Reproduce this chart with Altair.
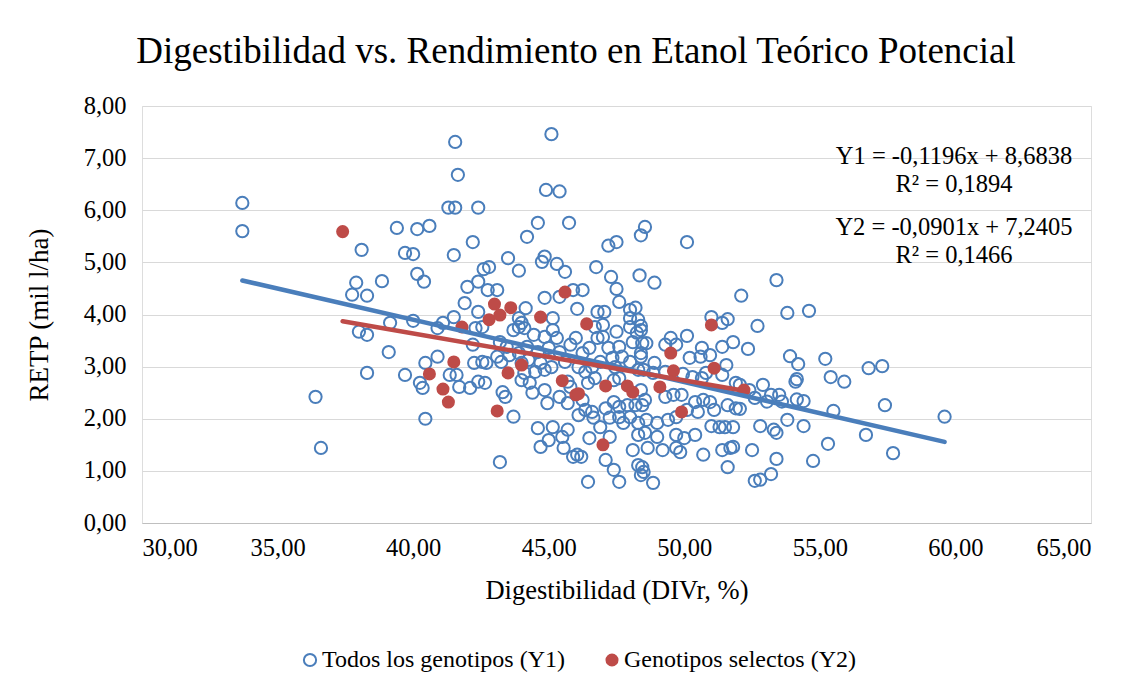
import altair as alt
import pandas as pd

# ---- Data ----
blue_x = [33.7, 33.7, 36.4, 36.6, 37.75, 37.9, 38.1, 38.3, 38.85, 39.15, 38.0, 38.3, 39.1, 38.3, 39.7,
          39.4, 39.7, 40.0, 40.15, 40.6, 41.3, 41.55, 42.4, 41.55, 41.65, 42.2, 41.5, 43.5, 44.2, 40.15,
          40.4, 42.6, 42.8, 43.9, 42.4, 42.0, 42.75, 43.1, 41.9, 42.4, 41.5, 40.0, 41.1, 43.9, 44.0,
          45.1, 44.9, 45.4, 44.6, 45.75, 48.55, 48.4, 47.2, 47.5, 44.85, 44.75, 45.3, 45.6, 46.75,
          47.3, 48.35, 47.5, 44.85, 45.4, 45.9, 46.25, 44.15, 46.05, 47.6, 46.8, 47.05, 48.0, 48.2,
          45.15, 48.0, 48.3, 48.4, 50.1, 48.9, 52.1, 51.0, 51.6, 51.4, 52.7, 53.4, 53.8, 54.6,
          57.3, 57.4, 59.6, 57.7, 53.9, 54.2, 55.2, 56.8, 55.4, 55.9, 54.1, 54.15, 52.9, 53.2, 53.5,
          53.6, 53.05, 54.15, 54.4, 55.5, 53.8, 54.4, 52.8, 53.3, 53.4, 56.7, 55.3, 53.4, 54.75,
          53.2, 52.8,
          48.4, 49.5, 50.1, 49.3, 49.7, 50.65, 51.4, 51.8, 52.35, 48.6, 48.4, 50.2, 50.6, 50.95,
          51.55, 48.9, 48.85, 48.5, 49.3, 49.95, 50.3, 50.65, 50.8, 51.4, 51.9, 52.05, 52.4, 48.4,
          48.55, 48.45, 49.3, 49.6, 49.9, 50.4, 50.7, 50.95, 51.1, 51.6, 51.9, 52.05, 52.6, 50.5,
          50.1, 48.6, 49.0, 49.4, 49.7, 51.0, 51.3, 51.5, 51.8, 48.55, 49.0, 49.7, 50.0, 50.4,
          48.65, 49.2, 49.7, 49.85, 50.7, 51.4, 51.7, 51.8, 52.5, 51.6, 48.45, 48.5, 48.85, 52.6,
          44.1, 44.45, 44.85, 45.15, 45.3, 45.8, 46.0, 46.8, 47.0, 46.7, 47.0, 47.5, 48.0, 48.25,
          48.1, 48.45, 47.6, 47.2, 46.5, 46.25, 45.4, 45.0, 44.6, 44.2, 44.25, 44.7, 44.85, 44.5,
          44.1, 44.3, 45.1, 45.6, 46.1, 46.35, 46.6, 46.9, 47.45, 47.35, 47.7, 48.0, 48.3, 48.4,
          45.7, 45.8, 46.45, 46.7, 47.4, 47.6, 44.85, 44.4, 44.95, 45.4, 45.7, 46.25, 46.35, 46.1,
          46.6, 46.65, 47.1, 47.4, 47.6, 47.9, 48.2, 47.6, 48.0, 47.75, 48.3, 47.25, 46.9, 47.25,
          48.3, 46.5, 44.6, 45.15, 45.7, 45.5, 45.0, 44.7, 45.55, 45.9, 46.05, 46.2, 48.1, 47.1,
          47.4, 47.6, 46.45, 48.3, 48.4,
          40.9, 42.3, 42.55, 42.2, 43.7, 43.9, 43.2, 43.45, 43.55, 43.1, 43.25, 43.9, 44.0, 40.9,
          40.45, 40.25, 40.35, 41.35, 41.6, 41.7, 42.1, 42.4, 42.65, 42.25, 42.55, 42.7, 43.3, 43.4,
          43.7, 40.45, 43.2, 44.0]
blue_y = [6.14, 5.60, 2.42, 1.44, 4.38, 4.61, 5.24, 4.36, 4.64, 3.84, 3.67, 3.61, 3.28, 2.88, 2.84,
          5.66, 5.18, 5.16, 5.64, 5.70, 6.05, 6.05, 6.05, 7.31, 6.68, 5.39, 5.14, 5.08, 5.49, 4.78,
          4.63, 4.87, 4.91, 4.84, 4.63, 4.53, 4.47, 4.47, 4.22, 4.05, 3.95, 3.88, 3.84, 3.93, 3.84,
          7.46, 6.39, 6.36, 5.76, 5.76, 5.68, 5.52, 5.32, 5.39, 5.11, 5.01, 4.97, 4.82, 4.91,
          4.72, 4.75, 4.49, 4.32, 4.34, 4.47, 4.47, 4.12, 4.11, 4.24, 4.05, 4.05, 4.09, 4.13,
          3.93, 3.93, 3.90, 3.78, 5.39, 4.61, 4.36, 3.95, 3.91, 3.84, 3.78, 4.66, 4.03, 4.07,
          3.01, 2.26, 2.04, 1.34, 3.20, 3.05, 3.15, 2.97, 2.80, 2.71, 2.71, 2.76, 2.65, 2.46, 2.46,
          2.33, 2.33, 2.37, 2.34, 2.15, 1.98, 1.86, 1.86, 1.79, 1.73, 1.69, 1.52, 1.23, 1.19,
          0.94, 0.83,
          3.70, 3.55, 3.59, 3.42, 3.42, 3.36, 3.38, 3.47, 3.34, 3.45, 3.19, 3.17, 3.19, 3.22,
          3.03, 3.07, 2.88, 2.94, 2.90, 2.86, 2.80, 2.78, 2.88, 2.84, 2.69, 2.65, 2.55, 2.55,
          2.36, 2.26, 2.42, 2.46, 2.46, 2.32, 2.36, 2.32, 2.17, 2.26, 2.20, 2.19, 2.40, 2.13,
          2.17, 1.98, 1.92, 1.98, 2.03, 1.86, 1.84, 1.84, 1.84, 1.73, 1.65, 1.69, 1.63, 1.69,
          1.44, 1.40, 1.44, 1.36, 1.31, 1.40, 1.44, 1.46, 1.40, 1.07, 1.07, 0.98, 0.77, 0.81,
          3.74, 3.61, 3.57, 3.70, 3.55, 3.42, 3.55, 3.55, 3.57, 3.76, 3.80, 3.67, 3.76, 3.65,
          3.47, 3.45, 3.38, 3.36, 3.36, 3.26, 3.28, 3.36, 3.28, 3.38, 3.13, 3.07, 2.94, 2.90,
          2.88, 2.69, 2.99, 3.09, 2.99, 2.90, 2.99, 3.09, 2.99, 3.17, 3.19, 3.09, 2.94, 3.26,
          2.71, 2.61, 2.69, 2.78, 2.74, 2.78, 2.55, 2.50, 2.30, 2.42, 2.30, 2.36, 2.17, 2.07,
          2.13, 2.02, 2.20, 2.32, 2.23, 2.26, 2.26, 2.03, 2.03, 1.92, 1.92, 2.02, 1.84, 1.65,
          1.69, 1.63, 1.82, 1.84, 1.79, 1.65, 1.59, 1.46, 1.44, 1.27, 1.31, 1.27, 1.40, 1.21,
          1.02, 0.79, 0.79, 1.11, 0.92,
          3.74, 3.74, 3.76, 3.42, 3.70, 3.76, 3.47, 3.38, 3.22, 3.19, 3.09, 3.26, 2.74, 3.19,
          3.07, 2.69, 2.59, 2.84, 2.84, 2.61, 2.59, 2.71, 2.69, 3.07, 3.09, 3.07, 2.51, 2.42,
          2.04, 2.00, 1.17, 3.07]

red_x = [37.4, 41.8, 41.5, 40.6, 41.1, 41.3, 42.8, 43.0, 43.2, 43.6, 43.5, 44.0, 43.1, 44.7, 45.6,
         45.5, 46.0, 46.1, 46.4, 47.1, 47.0, 47.9, 48.1, 49.1, 49.5, 49.6, 49.9, 51.0, 51.1, 52.2]
red_y = [5.59, 3.76, 3.09, 2.86, 2.57, 2.32, 3.90, 4.20, 3.99, 4.13, 2.88, 3.03, 2.15, 3.95, 4.43,
         2.73, 2.46, 2.48, 3.82, 2.63, 1.50, 2.63, 2.51, 2.61, 3.26, 2.92, 2.13, 3.80, 2.97, 2.55]

# trendline coefficients (from the equations on the chart)
slopes = [-0.1196, -0.0901]
intercepts = [8.6838, 7.2405]
eq_lines = ["Y1 = -0,1196x + 8,6838", "R² = 0,1894", "Y2 = -0,0901x + 7,2405", "R² = 0,1466"]
series_names = ["Todos los genotipos (Y1)", "Genotipos selectos (Y2)"]
title_text = "Digestibilidad vs. Rendimiento en Etanol Teórico Potencial"
x_title = "Digestibilidad (DIVr, %)"
y_title = "RETP (mil l/ha)"

BLUE = "#4A7EBB"
RED = "#BE4B48"
FONT = "Liberation Serif"

blue_df = pd.DataFrame({"x": blue_x, "y": blue_y})
red_df = pd.DataFrame({"x": red_x, "y": red_y})

def trend(xs, b, a, name):
    lo, hi = min(xs), max(xs)
    return pd.DataFrame({"x": [lo, hi], "y": [a + b * lo, a + b * hi], "s": [name, name]})

trend1 = trend(blue_x, slopes[0], intercepts[0], "Y1")
trend2 = trend(red_x, slopes[1], intercepts[1], "Y2")

W, H = 949, 417
lab = "replace(format(datum.value, '.2f'), '.', ',')"

xsc = alt.Scale(domain=[30, 65], nice=False, zero=False)
ysc = alt.Scale(domain=[0, 8], nice=False)

xax = alt.Axis(values=[30, 35, 40, 45, 50, 55, 60, 65], labelExpr=lab, title=x_title,
               grid=False, domain=True, domainColor="#BFBFBF", ticks=False,
               labelFont=FONT, labelFontSize=24.5, labelColor="#000000", labelPadding=13,
               titleFont=FONT, titleFontSize=26.5, titleFontWeight="normal", titleColor="#000000",
               titlePadding=18)
yax = alt.Axis(values=[0, 1, 2, 3, 4, 5, 6, 7, 8], labelExpr=lab, title=y_title,
               grid=True, gridColor="#D9D9D9", domain=False, ticks=False,
               labelFont=FONT, labelFontSize=24.5, labelColor="#000000", labelPadding=16,
               titleFont=FONT, titleFontSize=27, titleFontWeight="normal", titleColor="#000000",
               titlePadding=30)

base_blue = alt.Chart(blue_df).mark_point(
    shape="circle", filled=False, size=150, strokeWidth=2, color=BLUE, opacity=1
).encode(x=alt.X("x:Q", scale=xsc, axis=xax), y=alt.Y("y:Q", scale=ysc, axis=yax))

red_pts = alt.Chart(red_df).mark_circle(size=170, color=RED, opacity=1).encode(
    x=alt.X("x:Q", scale=xsc), y=alt.Y("y:Q", scale=ysc))

line1 = alt.Chart(trend1).mark_line(color=BLUE, strokeWidth=4.5, strokeCap="round").encode(
    x=alt.X("x:Q", scale=xsc), y=alt.Y("y:Q", scale=ysc))
line2 = alt.Chart(trend2).mark_line(color=RED, strokeWidth=4.5, strokeCap="round").encode(
    x=alt.X("x:Q", scale=xsc), y=alt.Y("y:Q", scale=ysc))

# equation texts
eq_df = pd.DataFrame({"t": eq_lines, "py": [51, 79, 122, 150]})
eqs = alt.Chart(eq_df).mark_text(font=FONT, fontSize=24.5, color="#000000", align="center",
                                 baseline="middle").encode(
    x=alt.value(812), y=alt.Y("py:Q", scale=None), text="t:N")

# title
title_df = pd.DataFrame({"t": [title_text]})
title = alt.Chart(title_df).mark_text(font=FONT, fontSize=37, color="#000000", align="center",
                                      baseline="middle").encode(
    x=alt.value(434), y=alt.value(-54), text="t:N")

# legend
leg_df = pd.DataFrame({"t": series_names, "px": [168, 470], "tx": [180, 482]})
leg_sym1 = alt.Chart(leg_df.iloc[[0]]).mark_point(shape="circle", filled=False, size=150,
                                                 strokeWidth=2, color=BLUE, opacity=1).encode(
    x=alt.X("px:Q", scale=None), y=alt.value(554))
leg_sym2 = alt.Chart(leg_df.iloc[[1]]).mark_circle(size=170, color=RED, opacity=1).encode(
    x=alt.X("px:Q", scale=None), y=alt.value(554))
leg_txt = alt.Chart(leg_df).mark_text(font=FONT, fontSize=24, color="#000000", align="left",
                                      baseline="middle").encode(
    x=alt.X("tx:Q", scale=None), y=alt.value(554), text="t:N")

chart = alt.layer(base_blue, red_pts, line1, line2, eqs, title, leg_sym1, leg_sym2, leg_txt).properties(
    width=W, height=H,
    autosize=alt.AutoSizeParams(type="none"),
    padding={"left": 134, "top": 98, "right": 40, "bottom": 154},
).configure_view(stroke=None).configure(background="#FFFFFF")

chart.save("out.html", embed_options={"renderer": "svg", "actions": False})
